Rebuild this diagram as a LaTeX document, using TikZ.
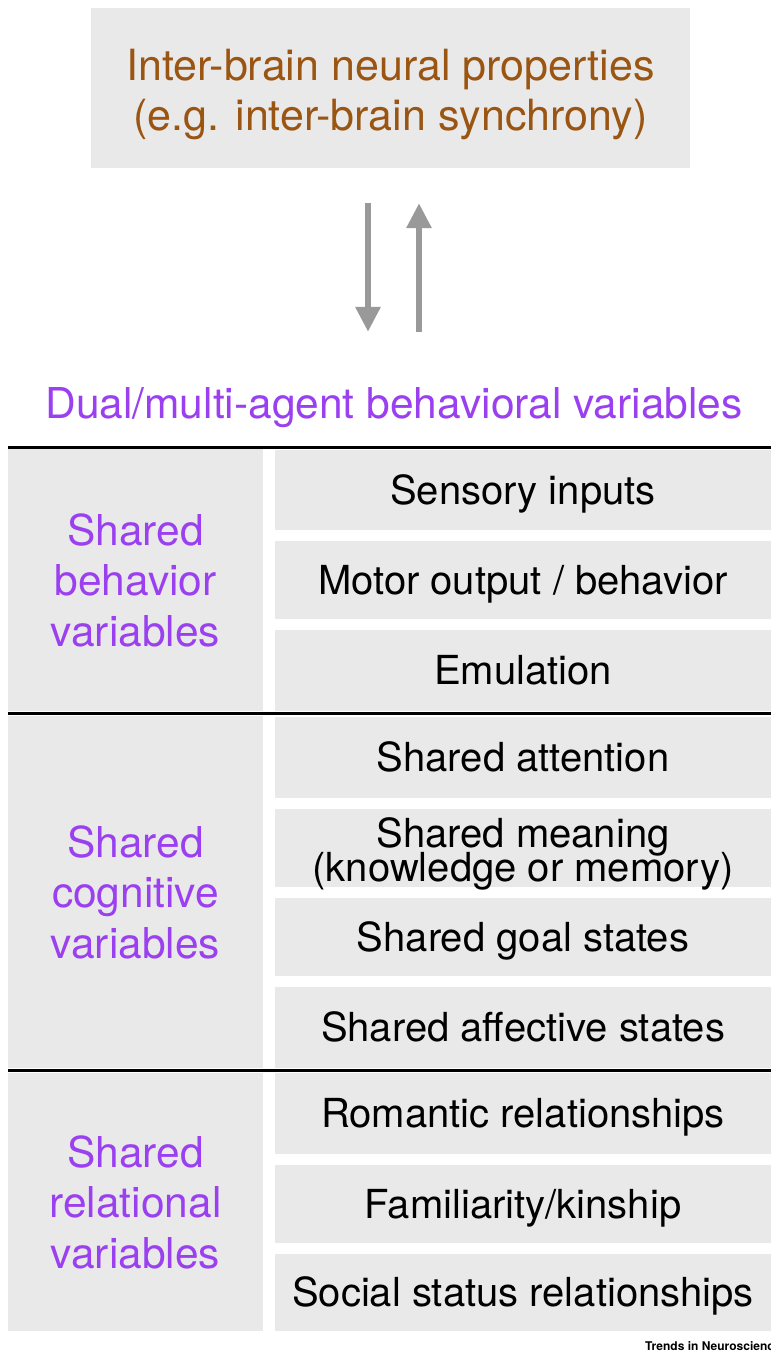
\documentclass[tikz,border=0pt]{standalone}
\usepackage{fontspec}
\setmainfont{TeX Gyre Heros}
\usetikzlibrary{arrows.meta}

\definecolor{cellgray}{HTML}{E9E9E9}
\definecolor{brainbrown}{HTML}{9A5512}
\definecolor{labpurple}{HTML}{9B40F0}
\definecolor{arrowgray}{HTML}{999999}

% lets two stacked lines sit closer than their glyphs would allow
\newcommand\tightlines{\setlength{\lineskiplimit}{-100pt}\setlength{\lineskip}{0pt}}

\tikzset{
  cell/.style={fill=cellgray, minimum width=496pt, inner sep=0pt,
    text height=28.7pt, text depth=0pt,
    font=\fontsize{40pt}{34pt}\selectfont},
  grouplabel/.style={fill=cellgray, minimum width=255pt, inner sep=0pt,
    align=center, text=labpurple,
    font=\fontsize{42.5pt}{50.5pt}\selectfont},
  rule/.style={line width=3pt, black},
  flow/.style={draw=arrowgray, line width=6pt,
    -{Triangle[width=24pt,length=25pt]}},
}

\begin{document}
\begin{tikzpicture}[x=1pt,y=-1pt]
\useasboundingbox (0,0) rectangle (771,1353);
\fill[white] (0,0) rectangle (771,1353);

% neural level
\node[fill=cellgray, minimum width=599pt, minimum height=160pt, inner sep=0pt] (top) at (390.5,88) {};
\node[anchor=north, inner sep=0pt, align=center, text=brainbrown,
      font=\fontsize{43pt}{50pt}\selectfont] (toptext) at (390.5,49)
      {Inter-brain neural properties\\(e.g. inter-brain synchrony)};

% behavioural level heading
\node[anchor=base, inner sep=0pt, text=labpurple,
      font=\fontsize{42.5pt}{42.5pt}\selectfont] (title) at (394,418)
      {Dual/multi-agent behavioral variables};

% bidirectional arrows
\coordinate (dtop) at ([xshift=-22.5pt,yshift=-35pt]top.south);
\coordinate (utop) at ([xshift=28.5pt,yshift=-35pt]top.south);
\path (title.north) ++(0,-55) coordinate (tn);
\draw[flow] (dtop) -- (dtop |- tn);
\draw[flow] (utop |- tn) -- (utop);

% shared behavior variables
\node[grouplabel, minimum height=262pt] (gbeh) at (135.5,580) {Shared\\behavior\\variables};
\node[cell, minimum height=80pt] (sens) at (523,490) {Sensory inputs};
\node[cell, minimum height=78pt] (motor) at (523,580) {Motor output / behavior};
\node[cell, minimum height=81pt] (emu) at (523,670.5) {Emulation};

% shared cognitive variables
\node[grouplabel, minimum height=352pt] (gcog) at (135.5,892) {Shared\\cognitive\\variables};
\node[cell, minimum height=81pt] (att) at (523,757.5) {Shared attention};
\node[cell, minimum height=78pt] (mean) at (523,848) {};
\node[anchor=north, inner sep=0pt, align=center,
      font=\fontsize{40pt}{34pt}\selectfont\tightlines] (meantext) at (523,817.5)
      {Shared meaning\\(knowledge or memory)};
\node[cell, minimum height=78pt] (goal) at (523,937) {Shared goal states};
\node[cell, minimum height=81pt] (aff) at (523,1027.5) {Shared affective states};

% shared relational variables
\node[grouplabel, minimum height=258pt] (grel) at (135.5,1202) {Shared\\relational\\variables};
\node[cell, minimum height=81pt] (rom) at (523,1113.5) {Romantic relationships};
\node[cell, minimum height=78pt] (fam) at (523,1204) {Familiarity/kinship};
\node[cell, minimum height=77pt] (soc) at (523,1292.5) {Social status relationships};

% section rules
\draw[rule] (8,447) -- (771,447);
\draw[rule] (8,713.5) -- (771,713.5);
\draw[rule] (8,1070) -- (771,1070);

% journal credit
\node[anchor=base west, inner sep=0pt, font=\bfseries\fontsize{12pt}{12pt}\selectfont] (credit)
      at (645,1350) {Trends in Neurosciences};
\end{tikzpicture}
\end{document}
